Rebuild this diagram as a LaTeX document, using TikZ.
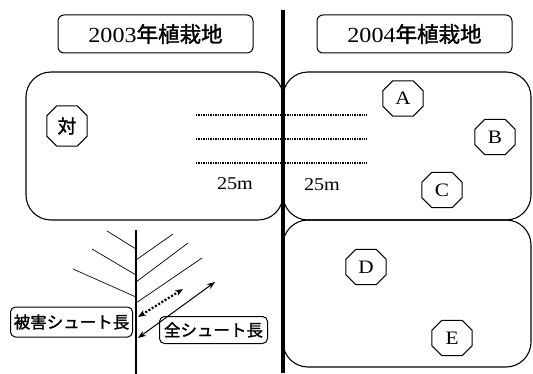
\documentclass[tikz,border=0pt]{standalone}
\usepackage{fontspec}
\setmainfont[FakeStretch=1.12]{Liberation Serif}
\newfontfamily\jpfont[FakeBold=1.5]{Noto Sans CJK JP}
\usetikzlibrary{arrows.meta}

\tikzset{
  plot/.style={draw, line width=1.1pt, rounded corners=25pt},
  titlebox/.style={draw, line width=1pt, rounded corners=6pt, minimum width=195pt,
    minimum height=38pt, inner sep=0pt, font=\fontsize{21.5}{23}\selectfont},
  octa/.style={minimum width=40pt, minimum height=35pt, inner sep=0pt,
    font=\fontsize{19}{21}\selectfont},
  octline/.style={line width=1pt, line join=round},
  lenbox/.style={draw, line width=1pt, rounded corners=5pt, inner sep=0pt,
    font=\jpfont\fontsize{16.5}{18}\selectfont},
  dist/.style={font=\fontsize{18}{20}\selectfont},
  row/.style={line width=1.4pt, densely dotted},
  twig/.style={line width=0.7pt},
  measure/.style={line width=1pt, {Stealth[length=8pt,width=6pt]}-{Stealth[length=8pt,width=6pt]}}
}

\begin{document}
\begin{tikzpicture}[x=1pt, y=-1pt]
  \useasboundingbox (0,0) rectangle (533,374);

  % planting plots
  \draw[plot] (26,72) rectangle (283,220);
  \draw[plot] (283,72) rectangle (531,220);
  \draw[plot] (283,220) rectangle (531,367);

  % boundary between the two plantings
  \coordinate (btop) at (283,10);
  \coordinate (bbot) at (283,373);
  \draw[line width=3.5pt] (btop) -- (bbot);

  % titles
  \node[titlebox] (t03) at (155.5,34) {2003{\jpfont 年植栽地}};
  \node[titlebox] (t04) at (414.5,34) {2004{\jpfont 年植栽地}};

  % plot markers, each framed by an octagon
  \node[octa, minimum width=40pt, minimum height=40pt] (ctl) at (67,126) {\jpfont 対};
  \node[octa] (pA) at (403,98.5) {A};
  \node[octa] (pB) at (495,137) {B};
  \node[octa] (pC) at (442,190) {C};
  \node[octa] (pD) at (366,267) {D};
  \node[octa] (pE) at (452,338) {E};
  \foreach \n in {ctl,pA,pB,pC,pD,pE}
    \draw[octline] ([xshift=10pt]\n.north west) -- ([xshift=-10pt]\n.north east)
      -- ([yshift=-10pt]\n.north east) -- ([yshift=10pt]\n.south east)
      -- ([xshift=-10pt]\n.south east) -- ([xshift=10pt]\n.south west)
      -- ([yshift=10pt]\n.south west) -- ([yshift=-10pt]\n.north west) -- cycle;

  % planting rows
  \foreach \y/\n in {115/1,139/2,163/3}{
    \coordinate (r\n a) at (196,\y);
    \coordinate (r\n b) at (367,\y);
    \draw[row] (r\n a) -- (r\n b);
  }
  \node[dist] (m1) at (235,184) {25m};
  \node[dist] (m2) at (322,185) {25m};

  % shoot sketch
  \coordinate (s0) at (136,230);
  \coordinate (s1) at (136,374);
  \draw[line width=1.1pt] (s0) -- (s1);
  \coordinate (l1) at (107,231);  \coordinate (l1s) at (136,249);
  \coordinate (l2) at (92,249);   \coordinate (l2s) at (136,275);
  \coordinate (l3) at (73,269);   \coordinate (l3s) at (136,297);
  \coordinate (r1) at (173,234);  \coordinate (r1s) at (136,260);
  \coordinate (r2) at (188,243);  \coordinate (r2s) at (136,282);
  \coordinate (r3) at (202,258);  \coordinate (r3s) at (136,303);
  \foreach \a/\b in {l1/l1s,l2/l2s,l3/l3s,r1/r1s,r2/r2s,r3/r3s}
    \draw[twig] (\a) -- (\b);

  % shoot length measures
  \coordinate (d0) at (138,317);
  \coordinate (d1) at (183,289);
  \coordinate (a0) at (138,338);
  \coordinate (a1) at (215,282);
  \draw[measure, line width=2.2pt, dash pattern=on 2pt off 1.8pt] (d0) -- (d1);
  \draw[measure] (a0) -- (a1);

  \node[lenbox, minimum width=122pt, minimum height=30pt] (dmg) at (71.5,322) {被害シュート長};
  \node[lenbox, minimum width=108pt, minimum height=27pt] (tot) at (213.5,330) {全シュート長};
\end{tikzpicture}
\end{document}
